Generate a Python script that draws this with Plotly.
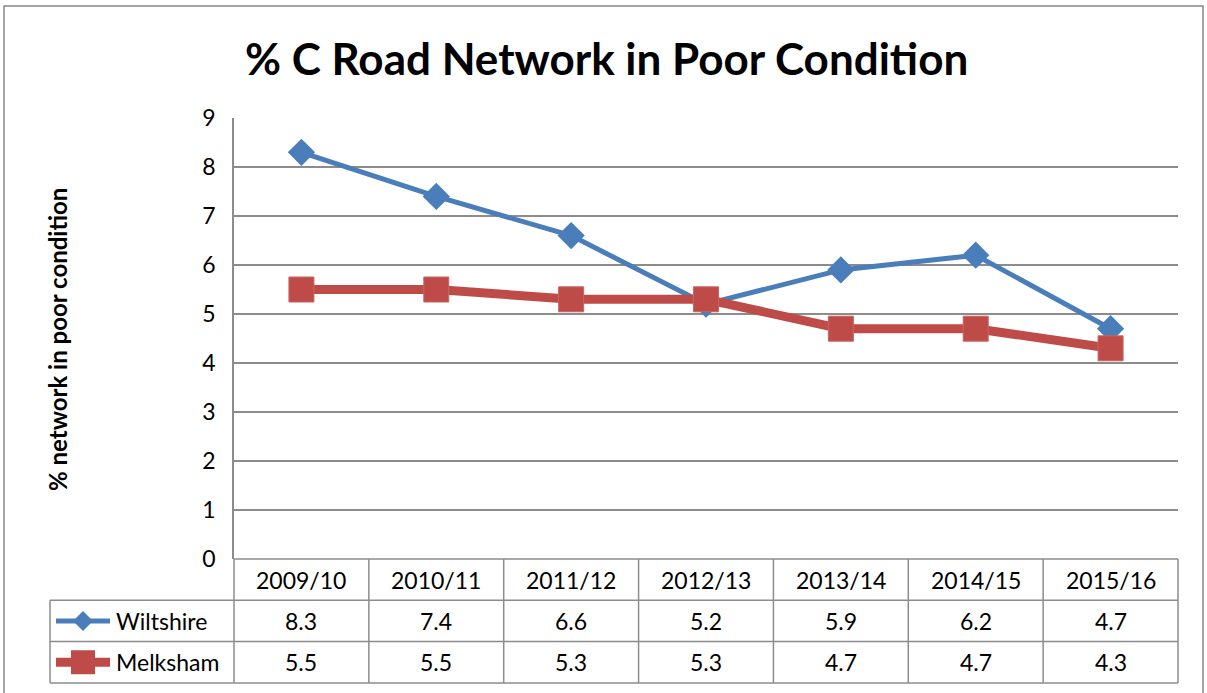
import plotly.graph_objects as go

categories = ["2009/10", "2010/11", "2011/12", "2012/13", "2013/14", "2014/15", "2015/16"]
wiltshire = [8.3, 7.4, 6.6, 5.2, 5.9, 6.2, 4.7]
melksham = [5.5, 5.5, 5.3, 5.3, 4.7, 4.7, 4.3]
series_names = ["Wiltshire", "Melksham"]

W, H = 1207, 693
BLUE = "#4A7EBB"
RED = "#BE4B48"
GRID = "#8C8C8C"
FONT = "Lato"
TXT = 23
BLUE_W, RED_W = 5, 9

# plot area in pixels
L, R, T, B = 234, 1178, 118, 559
ROW_H = 41.3
TABLE_LEFT = 50


def px(x):
    return x / W


def py(y):
    return 1 - y / H


fig = go.Figure()
fig.add_trace(go.Scatter(
    x=categories, y=wiltshire, name=series_names[0], mode="lines+markers",
    line=dict(color=BLUE, width=BLUE_W),
    marker=dict(symbol="diamond", size=21, color=BLUE),
))
fig.add_trace(go.Scatter(
    x=categories, y=melksham, name=series_names[1], mode="lines+markers",
    line=dict(color=RED, width=RED_W),
    marker=dict(symbol="square", size=25, color=RED, line=dict(color="#C96562", width=1)),
))

shapes = []
ann = []
n = len(categories)
colw = (R - L) / n

# outer chart border
shapes.append(dict(type="rect", xref="paper", yref="paper", x0=px(4), x1=px(1203), y0=py(705), y1=py(6),
                   line=dict(color="#878787", width=1.5), fillcolor="rgba(0,0,0,0)", layer="below"))

row_tops = [B, B + ROW_H, B + 2 * ROW_H, B + 3 * ROW_H]
shapes.append(dict(type="line", xref="paper", yref="paper", x0=px(L), x1=px(R), y0=py(row_tops[0]), y1=py(row_tops[0]),
                   line=dict(color=GRID, width=1.5)))
for yy in row_tops[1:]:
    shapes.append(dict(type="line", xref="paper", yref="paper", x0=px(TABLE_LEFT), x1=px(R), y0=py(yy), y1=py(yy),
                       line=dict(color=GRID, width=1.5)))
for i in range(n + 1):
    xx = L + i * colw
    shapes.append(dict(type="line", xref="paper", yref="paper", x0=px(xx), x1=px(xx), y0=py(row_tops[0]), y1=py(row_tops[3]),
                       line=dict(color=GRID, width=1.5)))
shapes.append(dict(type="line", xref="paper", yref="paper", x0=px(TABLE_LEFT), x1=px(TABLE_LEFT), y0=py(row_tops[1]), y1=py(row_tops[3]),
                   line=dict(color=GRID, width=1.5)))


def text(x, y, t, size=TXT, xanchor="center", angle=0):
    ann.append(dict(x=px(x), y=py(y), xref="paper", yref="paper", text=t, xanchor=xanchor, yanchor="middle",
                    textangle=angle, showarrow=False, font=dict(family=FONT, size=size, color="black")))


for i, c in enumerate(categories):
    cx = L + (i + 0.5) * colw
    text(cx, (row_tops[0] + row_tops[1]) / 2, c)
    for r, vals in enumerate([wiltshire, melksham]):
        text(cx, (row_tops[r + 1] + row_tops[r + 2]) / 2, f"{vals[i]:.1f}")

for r, (name, col, lw) in enumerate(zip(series_names, [BLUE, RED], [BLUE_W, RED_W])):
    yc = (row_tops[r + 1] + row_tops[r + 2]) / 2
    shapes.append(dict(type="line", xref="paper", yref="paper", x0=px(56), x1=px(110), y0=py(yc), y1=py(yc),
                       line=dict(color=col, width=lw)))
    if r == 0:
        d = 10
        path = f"M {px(83 - d)},{py(yc)} L {px(83)},{py(yc - d)} L {px(83 + d)},{py(yc)} L {px(83)},{py(yc + d)} Z"
        shapes.append(dict(type="path", xref="paper", yref="paper", path=path, fillcolor=col, line=dict(color=col, width=0)))
    else:
        d = 12
        shapes.append(dict(type="rect", xref="paper", yref="paper", x0=px(83 - d), x1=px(83 + d), y0=py(yc + d), y1=py(yc - d),
                           fillcolor=col, line=dict(color=col, width=0)))
    text(114, yc, name, xanchor="left")

text(606, 58, "<b>% C Road Network in Poor Condition</b>", size=44)
text(57, 340, "<b>% network in poor condition</b>", size=24, angle=-90)

fig.update_layout(
    width=W, height=H,
    margin=dict(l=0, r=0, t=0, b=0, autoexpand=False),
    paper_bgcolor="white", plot_bgcolor="white",
    showlegend=False,
    shapes=shapes, annotations=ann,
    xaxis=dict(domain=[px(L), px(R)], range=[-0.5, n - 0.5], showticklabels=False, showgrid=False,
               zeroline=False, showline=False, ticks="", fixedrange=True, automargin=False),
    yaxis=dict(domain=[py(B), py(T)], range=[0, 9], dtick=1, tick0=0, showgrid=True, gridcolor=GRID, gridwidth=1.5,
               zeroline=False, showline=True, linecolor=GRID, linewidth=1.5,
               ticks="outside", ticklen=12, tickcolor="rgba(0,0,0,0)", automargin=False,
               tickfont=dict(family=FONT, size=TXT, color="black"), fixedrange=True),
)

fig.write_html("out.html", config={"displayModeBar": False},
               post_script="document.body.style.margin='0';document.body.style.overflow='hidden';")
